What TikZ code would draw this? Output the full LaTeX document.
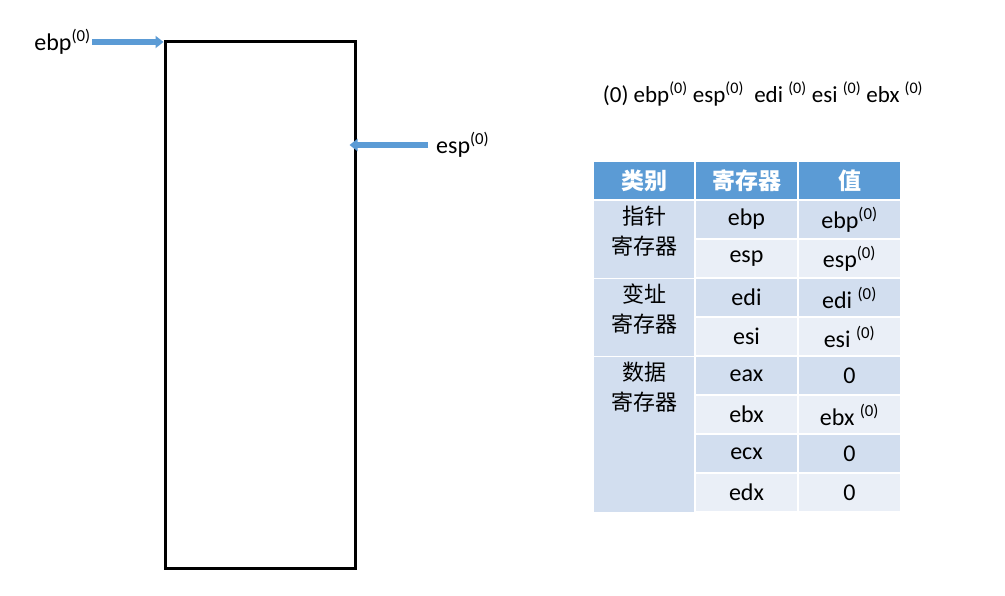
\documentclass[tikz,border=0pt]{standalone}
\usepackage{fontspec}
\setmainfont{Carlito}
\newfontfamily\cjk{Noto Sans CJK SC}
\usepackage{xcolor}
\usetikzlibrary{arrows.meta, positioning}

\definecolor{hdblue}{HTML}{5B9BD5}
\definecolor{rowdark}{HTML}{D2DEEF}
\definecolor{rowlight}{HTML}{EAEFF7}
\definecolor{arrowline}{HTML}{41719C}

\newcommand{\zsup}{\textsuperscript{(0)}}

\begin{document}
\begin{tikzpicture}[
  x=1pt, y=-1pt,
  every node/.style={font=\fontsize{24}{28}\selectfont},
  cell/.style={rectangle, draw=white, line width=1.5pt, minimum height=39, inner sep=0pt, align=center},
  colA/.style={cell, minimum width=102},
  colB/.style={cell, minimum width=103},
  head/.style={fill=hdblue, text=white, font=\fontsize{23}{28}\selectfont\cjk\bfseries},
  group/.style={font=\fontsize{22}{30}\selectfont\cjk, align=center},
  dark/.style={fill=rowdark},
  light/.style={fill=rowlight},
  ptr/.style={-{Triangle[length=8pt, width=12pt]}, line width=5.5pt, hdblue},
]
  \useasboundingbox (0,0) rectangle (1005,596);

  % stack frame
  \node[draw, line width=3pt, minimum width=190, minimum height=526, inner sep=0pt] (stack) at (260,305) {};

  \node[anchor=east, inner sep=1pt] (ebp) at (92,42) {ebp\zsup};
  \draw[ptr] (ebp.east) -- (ebp.east -| stack.west);

  \node[anchor=west, inner sep=1pt] (esp) at (435,145) {esp\zsup};
  \draw[ptr] ([xshift=-7pt]esp.west) -- ([xshift=-7pt]esp.west -| stack.east);

  \node[font=\fontsize{23}{28}\selectfont] (init) at (763,94) {(0) ebp\zsup{} esp\zsup{}\ \ edi \zsup{} esi \zsup{} ebx \zsup};

  % register table
  \node[colA, head, minimum height=38] (h1) at (644,180.5) {类别};
  \node[colB, head, minimum height=38] (h2) at (746.5,180.5) {寄存器};
  \node[colB, head, minimum height=38] (h3) at (849.5,180.5) {值};

  \node[colA, dark, minimum height=78, anchor=north] (g1) at (644,200) {};
  \node[colA, dark, minimum height=78, anchor=north] (g2) at (644,278) {};
  \node[colA, dark, minimum height=156, anchor=north] (g3) at (644,356) {};
  \node[below=2pt of g1.north, group] (t1) {指针\\寄存器};
  \node[below=2pt of g2.north, group] (t2) {变址\\寄存器};
  \node[below=2pt of g3.north, group] (t3) {数据\\寄存器};

  \node[colB, dark] (r1) at (746.5,219.5) {ebp};
  \node[colB, dark] (v1) at (849.5,219.5) {ebp\zsup};
  \node[colB, light] (r2) at (746.5,258.5) {esp};
  \node[colB, light] (v2) at (849.5,258.5) {esp\zsup};
  \node[colB, dark] (r3) at (746.5,297.5) {edi};
  \node[colB, dark] (v3) at (849.5,297.5) {edi \zsup};
  \node[colB, light] (r4) at (746.5,336.5) {esi};
  \node[colB, light] (v4) at (849.5,336.5) {esi \zsup};
  \node[colB, dark] (r5) at (746.5,375.5) {eax};
  \node[colB, dark] (v5) at (849.5,375.5) {0};
  \node[colB, light] (r6) at (746.5,414.5) {ebx};
  \node[colB, light] (v6) at (849.5,414.5) {ebx \zsup};
  \node[colB, dark] (r7) at (746.5,453.5) {ecx};
  \node[colB, dark] (v7) at (849.5,453.5) {0};
  \node[colB, light] (r8) at (746.5,492.5) {edx};
  \node[colB, light] (v8) at (849.5,492.5) {0};
\end{tikzpicture}
\end{document}
